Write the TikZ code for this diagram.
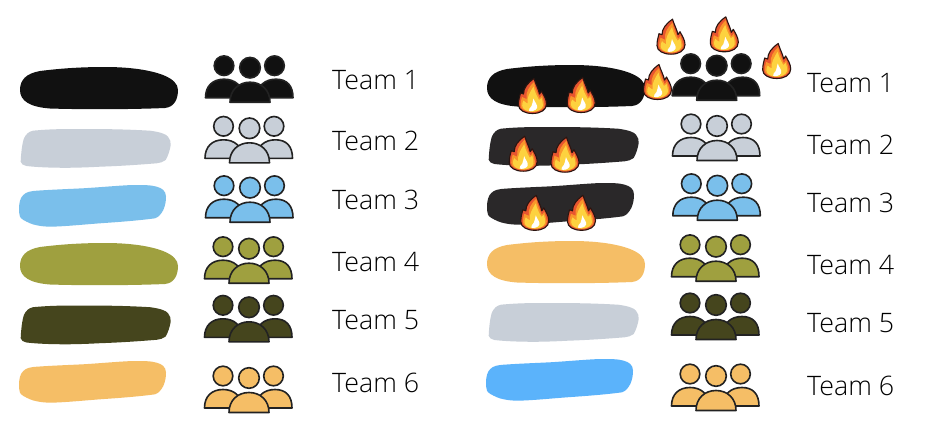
\documentclass[tikz,border=0pt]{standalone}
\usepackage{fontspec}
\setmainfont{Open Sans Light}
\definecolor{cblack}{HTML}{111111}
\definecolor{cgrey}{HTML}{C8CFD8}
\definecolor{cblue}{HTML}{7ABFEB}
\definecolor{colive}{HTML}{9FA03F}
\definecolor{cdark}{HTML}{45451D}
\definecolor{corange}{HTML}{F5BE66}
\definecolor{ccoal}{HTML}{2A2829}
\definecolor{cbluetwo}{HTML}{5BB3FB}
\definecolor{iconline}{HTML}{222222}
\definecolor{fred}{HTML}{E8552F}
\definecolor{forange}{HTML}{F9962B}
\definecolor{fyellow}{HTML}{FDD23F}
\definecolor{fline}{HTML}{2A1410}
\tikzset{
  teamlabel/.style={anchor=base west,inner sep=0pt,font=\fontsize{26.8}{27}\selectfont,text=black},
  iconpart/.style={draw=iconline,line width=1.6pt,line join=round},
}
\newcommand{\blobA}[3]{\fill[#3,shift={(#1,#2)}] (0,23) .. controls (0,13) and (6,6.5) .. (20,4) .. controls (40,1.5) and (60,0) .. (85,0) .. controls (110,0) and (130,3) .. (143,8) .. controls (153,12) and (158,17) .. (158,23) .. controls (158,31) and (155,40) .. (145,41) .. controls (110,42.5) and (60,42.5) .. (30,41.5) .. controls (10,40) and (0,34) .. (0,23) -- cycle;}
\newcommand{\blobB}[3]{\fill[#3,shift={(#1,#2)}] (0.7,32.7) .. controls (1,25) and (2,15) .. (4,9.3) .. controls (6,5) and (9,2.5) .. (13,1.7) .. controls (30,0) and (45,0) .. (63,0) .. controls (90,0) and (110,0.5) .. (130,1.7) .. controls (140,3) and (146,5) .. (148,7.7) .. controls (150,10) and (151,13) .. (150.7,16) .. controls (150,21) and (148,27) .. (145.7,31) .. controls (143,33) and (140,34) .. (136.7,34.3) .. controls (115,36) and (100,37) .. (80,37.7) .. controls (65,38.5) and (50,39) .. (36.7,38.7) .. controls (25,38.5) and (15,38) .. (6.7,37) .. controls (3,36) and (1,35) .. (0.7,32.7) -- cycle;}
\newcommand{\blobC}[3]{\fill[#3,shift={(#1,#2)}] (0,25) .. controls (0,18) and (1,13) .. (4.3,10) .. controls (7,7) and (12,6) .. (17.7,5.7) .. controls (35,4.5) and (50,4) .. (64,3.3) .. controls (85,2) and (100,0.5) .. (114,0) .. controls (125,0) and (132,0) .. (137.7,1.7) .. controls (143,3) and (147,6) .. (147,11.7) .. controls (147,17) and (146,21) .. (144.3,25) .. controls (142,29) and (140,32) .. (136,33.3) .. controls (120,35.5) and (100,37) .. (81,38.3) .. controls (65,39.5) and (45,41.5) .. (31,41.7) .. controls (22,41.5) and (15,40) .. (11,38.3) .. controls (6,36) and (2,34) .. (1,31.7) .. controls (0.3,29) and (0,27) .. (0,25) -- cycle;}
\newcommand{\people}[3]{\begin{scope}[shift={(#1,#2)}]
  \path[iconpart,fill=#3] (-44.5,30) .. controls (-44.5,18) and (-37,11.5) .. (-26,11.5) .. controls (-15,11.5) and (-7,18) .. (-7,30) -- cycle;
  \path[iconpart,fill=#3] (7,30) .. controls (7,18) and (15,11.5) .. (26,11.5) .. controls (37,11.5) and (43,18) .. (43,30) -- cycle;
  \path[iconpart,fill=#3] (-20,34.5) .. controls (-20,22) and (-11,14.5) .. (0,14.5) .. controls (11,14.5) and (20,22) .. (20,34.5) -- cycle;
  \path[iconpart,fill=#3] (-26,-2) circle[radius=9.8];
  \path[iconpart,fill=#3] (24.5,-2) circle[radius=9.8];
  \path[iconpart,fill=#3] (0,0) circle[radius=10.3];
\end{scope}}
\newcommand{\flame}[2]{\begin{scope}[shift={(#1,#2)}]
  \path[draw=fline,line width=1.1pt,line join=round,fill=fred] (1.5,-17.5) .. controls (3.5,-11) and (6,-7) .. (7,-2) .. controls (8,-3) and (8.5,-4) .. (9,-5) .. controls (11,-1) and (14,3) .. (14,8) .. controls (14,14) and (8,17.5) .. (0,17.5) .. controls (-8,17.5) and (-14,14) .. (-14,9) .. controls (-14,4) and (-13,1) .. (-12,-3) .. controls (-11,-2.5) and (-10,-2) .. (-9,-2) .. controls (-9,-8) and (-5,-13) .. (1.5,-17.5) -- cycle;
  \fill[forange] (1.5,-14) .. controls (2.5,-8) and (5,-3) .. (7,2) .. controls (8,1.5) and (8.5,0.5) .. (9.5,-1) .. controls (10.5,3) and (12,6) .. (12,9) .. controls (12,13) and (6,16) .. (0,16) .. controls (-7,16) and (-12,13) .. (-12,9) .. controls (-12,6) and (-11,3) .. (-10.5,1) .. controls (-9,2) and (-8,2) .. (-6,3) .. controls (-7,-4) and (-3,-10) .. (1.5,-14) -- cycle;
  \fill[fyellow] (1,-9.5) .. controls (2,-4) and (5,1) .. (6.5,4) .. controls (7.5,3.5) and (8.5,3) .. (9,2) .. controls (10,5) and (10.8,8) .. (10.3,10) .. controls (9.5,13.5) and (5,15.8) .. (0,15.8) .. controls (-5,15.8) and (-10.3,13.5) .. (-10.3,9.5) .. controls (-10.3,8) and (-10,6) .. (-9,4.5) .. controls (-8,5.5) and (-7,6.5) .. (-5,7.5) .. controls (-6,2) and (-2.5,-4) .. (1,-9.5) -- cycle;
  \fill[white] (1,2.5) .. controls (2,6) and (5.5,9) .. (4.5,12) .. controls (3.5,14.8) and (-2,15.8) .. (-3.5,14.8) .. controls (-4.5,13) and (-2,12) .. (-1,10) .. controls (0,8) and (0,6) .. (1,2.5) -- cycle;
\end{scope}}
\begin{document}
\begin{tikzpicture}[x=1pt,y=-1pt]
\useasboundingbox (0,0) rectangle (936,434);
\fill[white] (0,0) rectangle (936,434);
% left column
\blobA{20}{67}{cblack}
\blobB{20}{129}{cgrey}
\blobC{19}{185}{cblue}
\blobA{20}{243}{colive}
\blobB{20}{305.5}{cdark}
\blobC{19}{361}{corange}
\people{250}{67.7}{cblack}
\people{249.5}{128.3}{cgrey}
\people{250}{187.7}{cblue}
\people{249}{248.7}{colive}
\people{249}{307.3}{cdark}
\people{249}{378}{corange}
\node[teamlabel] (l1) at (332,89) {Team 1};
\node[teamlabel] (l2) at (332,150.5) {Team 2};
\node[teamlabel] (l3) at (332,209) {Team 3};
\node[teamlabel] (l4) at (332,271.5) {Team 4};
\node[teamlabel] (l5) at (332,329) {Team 5};
\node[teamlabel] (l6) at (332,392) {Team 6};
% right column
\blobA{487}{65}{cblack}
\blobB{488}{127}{ccoal}
\blobC{487}{183}{ccoal}
\blobA{487}{241}{corange}
\blobB{488}{303}{cgrey}
\blobC{486}{359}{cbluetwo}
\people{716.7}{65.7}{cblack}
\people{717}{126}{cgrey}
\people{717.3}{185.7}{cblue}
\people{716}{246.7}{colive}
\people{716}{305}{cdark}
\people{716}{376}{corange}
\node[teamlabel] (r1) at (807,92.5) {Team 1};
\node[teamlabel] (r2) at (807,154.5) {Team 2};
\node[teamlabel] (r3) at (807,212.5) {Team 3};
\node[teamlabel] (r4) at (807,274.5) {Team 4};
\node[teamlabel] (r5) at (807,332.5) {Team 5};
\node[teamlabel] (r6) at (807,395) {Team 6};
% flames
\flame{671}{36.7}
\flame{724.3}{34.3}
\flame{776.7}{61}
\flame{657.5}{82}
\flame{532.5}{96}
\flame{581.2}{95}
\flame{523.2}{153.7}
\flame{565}{154.7}
\flame{534.8}{212.8}
\flame{581.5}{212.8}
\end{tikzpicture}
\end{document}
